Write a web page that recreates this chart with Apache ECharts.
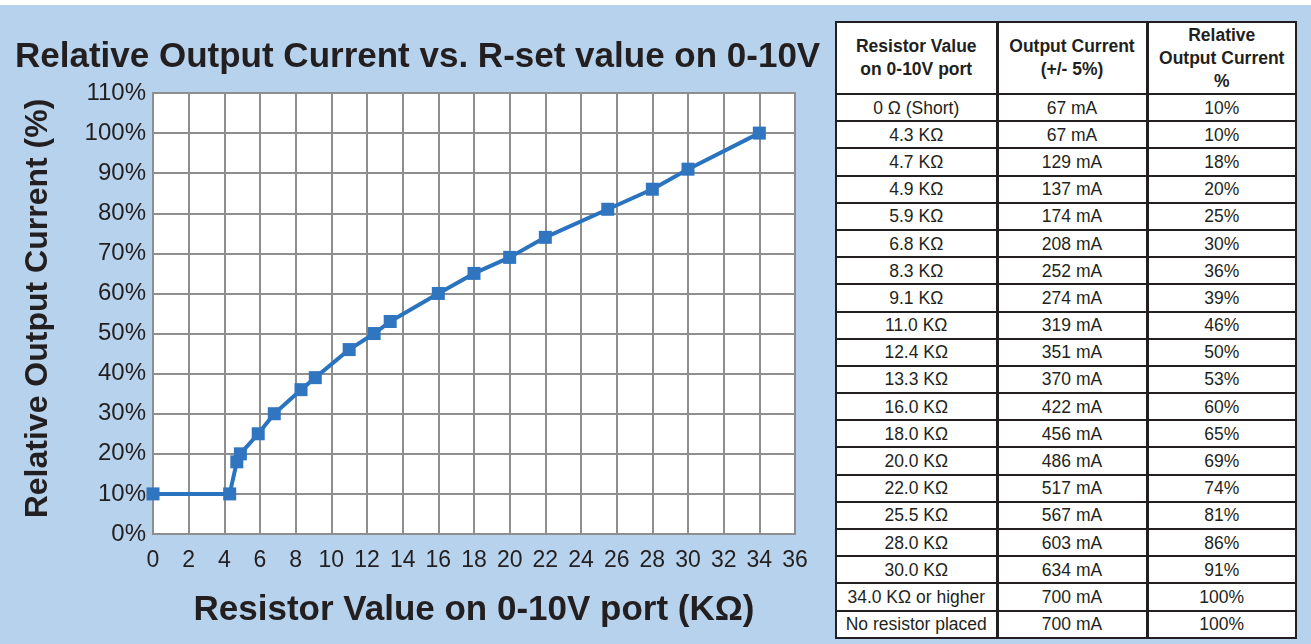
<!DOCTYPE html>
<html>
<head>
<meta charset="utf-8">
<script src="https://cdn.jsdelivr.net/npm/echarts@6/dist/echarts.min.js"></script>
<style>
  html, body { margin: 0; padding: 0; }
  body { width: 1311px; height: 644px; position: relative; overflow: hidden;
         background: linear-gradient(to bottom, #ffffff 0px, #ffffff 5px, #b7d2ec 5px, #b7d2ec 100%); }
  #chart { position: absolute; left: 0; top: 0; width: 1311px; height: 644px; }
  #tbl { position: absolute; left: 835px; top: 21px; width: 460px; border-collapse: collapse;
         background: #ffffff; font-family: "Liberation Sans", Arial, sans-serif; color: #231f20;
         table-layout: fixed; }
  #tbl td, #tbl th { border: 2px solid #231f20; text-align: center; padding: 0; font-size: 17.5px;
         height: 25.2px; line-height: 20px; white-space: nowrap; overflow: hidden; }
  #tbl th { font-weight: bold; height: 70px; font-size: 17.5px; line-height: 23px; }
  #tbl td:nth-child(2), #tbl th:nth-child(2) { border-left-width: 3px; border-right-width: 3px; }
</style>
</head>
<body>
<div id="chart"></div>
<table id="tbl"></table>
<script>
// ---- data ----
const resistorKOhm = [0, 4.3, 4.7, 4.9, 5.9, 6.8, 8.3, 9.1, 11.0, 12.4, 13.3, 16.0, 18.0, 20.0, 22.0, 25.5, 28.0, 30.0, 34.0];
const relativePct  = [10, 10, 18, 20, 25, 30, 36, 39, 46, 50, 53, 60, 65, 69, 74, 81, 86, 91, 100];

const tableHeaders  = ["Resistor Value<br>on 0-10V port", "Output Current<br>(+/- 5%)", "Relative<br>Output Current<br>%"];
const tableResistor = ["0 Ω (Short)", "4.3 KΩ", "4.7 KΩ", "4.9 KΩ", "5.9 KΩ", "6.8 KΩ", "8.3 KΩ", "9.1 KΩ", "11.0 KΩ", "12.4 KΩ", "13.3 KΩ", "16.0 KΩ", "18.0 KΩ", "20.0 KΩ", "22.0 KΩ", "25.5 KΩ", "28.0 KΩ", "30.0 KΩ", "34.0 KΩ or higher", "No resistor placed"];
const tableCurrent  = ["67 mA", "67 mA", "129 mA", "137 mA", "174 mA", "208 mA", "252 mA", "274 mA", "319 mA", "351 mA", "370 mA", "422 mA", "456 mA", "486 mA", "517 mA", "567 mA", "603 mA", "634 mA", "700 mA", "700 mA"];
const tablePercent  = ["10%", "10%", "18%", "20%", "25%", "30%", "36%", "39%", "46%", "50%", "53%", "60%", "65%", "69%", "74%", "81%", "86%", "91%", "100%", "100%"];

const titleText = "Relative Output Current vs. R-set value on 0-10V";
const xName = "Resistor Value on 0-10V port (KΩ)";
const yName = "Relative Output Current (%)";

// ---- table ----
const tbl = document.getElementById('tbl');
let html = '<colgroup><col style="width:161px"><col style="width:150px"><col style="width:149px"></colgroup>';
html += '<tr>' + tableHeaders.map(h => '<th>' + h + '</th>').join('') + '</tr>';
for (let i = 0; i < tableResistor.length; i++) {
  html += '<tr><td>' + tableResistor[i] + '</td><td>' + tableCurrent[i] + '</td><td>' + tablePercent[i] + '</td></tr>';
}
tbl.innerHTML = html;

// ---- chart ----
const chart = echarts.init(document.getElementById('chart'), null, { renderer: 'canvas' });
const font = '"Liberation Sans", Arial, sans-serif';
const gridColor = '#8e8e8e';
chart.setOption({
  backgroundColor: 'transparent',
  animation: false,
  title: {
    text: titleText, left: 10, top: 35,
    textStyle: { fontFamily: font, fontWeight: 'bold', fontSize: 35, color: '#231f20' }
  },
  grid: { left: 153, right: 516, top: 93, bottom: 110, show: true, backgroundColor: '#ffffff', borderColor: gridColor, borderWidth: 2 },
  xAxis: {
    type: 'value', min: 0, max: 36, interval: 2,
    name: xName, nameLocation: 'middle', nameGap: 59,
    nameTextStyle: { fontFamily: font, fontWeight: 'bold', fontSize: 35, color: '#231f20' },
    axisLine: { show: true, lineStyle: { color: gridColor, width: 2 } },
    axisTick: { show: false },
    axisLabel: { fontFamily: font, fontSize: 23, color: '#231f20', margin: 15 },
    splitLine: { show: true, lineStyle: { color: gridColor, width: 2 } }
  },
  yAxis: {
    type: 'value', min: 0, max: 110, interval: 10,
    name: yName, nameLocation: 'middle', nameGap: 99, nameRotate: 90,
    nameTextStyle: { fontFamily: font, fontWeight: 'bold', fontSize: 32, color: '#231f20', padding: [0, 0, 0, 10] },
    axisLine: { show: true, lineStyle: { color: gridColor, width: 2 } },
    axisTick: { show: false },
    axisLabel: { fontFamily: font, fontSize: 24, color: '#231f20', margin: 7, formatter: '{value}%' },
    splitLine: { show: true, lineStyle: { color: gridColor, width: 2 } }
  },
  series: [{
    type: 'line',
    data: resistorKOhm.map((x, i) => [x, relativePct[i]]),
    symbol: 'rect', symbolSize: 13,
    lineStyle: { color: '#2a73be', width: 4 },
    itemStyle: { color: '#2f75c0' }
  }]
});
</script>
</body>
</html>
